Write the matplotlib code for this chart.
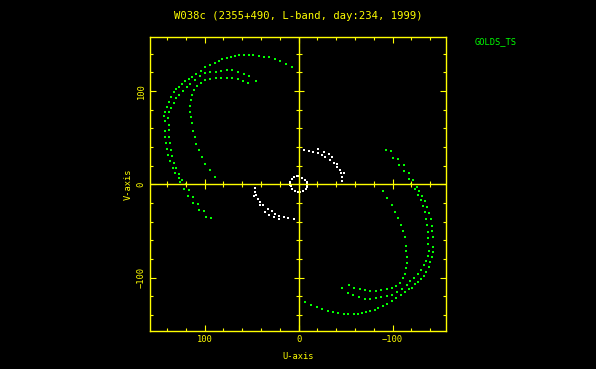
import numpy as np
import matplotlib
matplotlib.use("Agg")
import matplotlib.pyplot as plt

# uv points (upper half); the conjugate points (-u, -v) are drawn too
# green baselines (GOLDS_TS)
g1_u = [7, 13, 19.5, 25, 31, 36.5, 42, 48, 53, 58.5, 63, 68, 72, 76, 81.5, 85, 89.4, 94, 99,
        104, 109, 113, 117, 120.5, 124, 127, 130, 133, 135.4, 138.3, 140, 141.8, 142.6, 142.5,
        142.5, 141.8, 141.5, 140.4, 139, 136.8, 134, 131.2, 127.6, 125.8, 122, 118, 112, 106, 98.5]
g1_v = [126, 129, 132, 134, 136, 137, 138, 138.6, 139, 139, 138.6, 138, 136.5, 135.7, 134.3, 132.5,
        130, 128, 125.4, 122, 118.5, 115, 112.5, 110.7, 107, 104.6, 102, 98.6, 94, 88.5, 83, 78, 73,
        67.5, 56.8, 50.4, 44.3, 37.4, 31.1, 24.6, 17.5, 12.1, 6.8, 2.5, -5, -12.2, -20.4, -27.5, -35.4]

g2_u = [45.7, 52.8, 57.8, 64, 70.5, 76, 82, 88, 94, 99, 105, 110, 115, 119, 123, 127, 130, 133,
        135.5, 137.5, 138.5, 138, 137.5, 137.5, 137, 136, 134.5, 132.5, 130, 127, 124, 120, 117,
        112.3, 106.7, 100.7, 93]
g2_v = [110.7, 116.4, 118.2, 120.7, 122.5, 122.5, 121.5, 120.5, 120, 119, 116, 112, 108, 104, 100,
        96, 92, 87, 82, 77, 71, 64, 58, 51, 44, 37, 30, 23, 17, 11, 5, 0, -6, -14, -21, -28.6, -36.5]

g3_u = [53.5, 58.9, 64.9, 70.5, 76, 82, 88, 94, 99, 104, 108, 111.5, 113.5, 114.5, 115.5, 115.5,
        114.8, 113.8, 112.7, 110.6, 109, 106.3, 102.8, 99.2, 94.6, 89.3]
g3_v = [108.2, 110.7, 112.5, 113.6, 114.5, 114.5, 113.8, 112.8, 111.5, 109, 105.5, 101, 96, 90,
        84, 78, 72, 66, 57, 50.4, 43.5, 36.4, 29.6, 22, 15, 7.5]

# white baselines
w0_u = [9.5, 9, 7.5, 5, 2, -1, -4, -6.5, -8.5, -9]
w0_v = [-1, 2.5, 5.5, 7.5, 8.5, 8.5, 7, 5, 2, -1]

w1_u = [-5.3, -10.7, -15.3, -20.6, -24.8, -28.4, -33, -37.3, -40.8, -43.6, -45.1, -46.1, -46.1]
w1_v = [36.8, 36, 35, 33.5, 31.4, 28.9, 26, 22.5, 18.9, 15.3, 11.8, 8.2, 3.9]
w2_u = [-20.6, -26.6, -31.9, -35.5, -37.3, -40.8, -47.9]
w2_v = [37.5, 35, 32.5, 29.6, 22.5, 21.8, 12.5]

green = "#00ff00"
yellow = "#ffff00"
white = "#ffffff"

plt.rcParams["font.family"] = "DejaVu Sans Mono"
plt.rcParams["font.size"] = 6.3

fig = plt.figure(figsize=(5.96, 3.69), dpi=100, facecolor="black")
ax = fig.add_axes([0.2517, 0.103, 0.4961, 0.7959], facecolor="black")


def uv(ax, u, v, col):
    u = np.array(u)
    v = np.array(v)
    for s in (1, -1):
        ax.plot(s * u, s * v, ls="none", marker="s", ms=1.7, mew=0, color=col)


uv(ax, g1_u, g1_v, green)
uv(ax, g2_u, g2_v, green)
uv(ax, g3_u, g3_v, green)
uv(ax, w0_u, w0_v, white)
uv(ax, w1_u, w1_v, white)
uv(ax, w2_u, w2_v, white)

# zero axes with crossing ticks
ax.axhline(0, color=yellow, lw=1.0)
ax.axvline(0, color=yellow, lw=1.0)
minor = np.arange(-140, 160, 20)
minor = minor[minor % 100 != 0]
major = np.array([-100, 100])
ax.plot(minor, np.zeros_like(minor), ls="none", marker="|", ms=4.5, mew=0.8, color=yellow)
ax.plot(major, np.zeros_like(major), ls="none", marker="|", ms=7.5, mew=0.8, color=yellow)
ax.plot(np.zeros_like(minor), minor, ls="none", marker="_", ms=4.5, mew=0.8, color=yellow)
ax.plot(np.zeros_like(major), major, ls="none", marker="_", ms=7.5, mew=0.8, color=yellow)

ax.set_xlim(158, -156.5)
ax.set_ylim(-157.3, 157.6)

ax.set_xticks([100, 0, -100])
ax.set_yticks([-100, 0, 100])
ax.set_xticks(np.arange(-140, 160, 20), minor=True)
ax.set_yticks(np.arange(-140, 160, 20), minor=True)
ax.set_xticklabels(["100", "0", "\u2212100"])
ax.set_yticklabels(["\u2212100", "0", "100"], rotation=90, va="center")

ax.tick_params(which="both", direction="in", top=True, right=True, colors=yellow, width=0.8)
ax.tick_params(which="major", length=4, pad=3)
ax.tick_params(which="minor", length=2.2)
ax.tick_params(axis="y", pad=3)
for sp in ax.spines.values():
    sp.set_color(yellow)
    sp.set_linewidth(1.0)

ax.set_xlabel("U-axis", color=yellow, labelpad=6)
ax.set_ylabel("V-axis", color=yellow, labelpad=3)
ax.set_title("W038c (2355+490, L-band, day:234, 1999)", color=yellow, pad=13)
fig.text(0.797, 0.887, "GOLDS_TS", color=green, ha="left", va="center")

fig.savefig("out.png", dpi=100, facecolor="black")
